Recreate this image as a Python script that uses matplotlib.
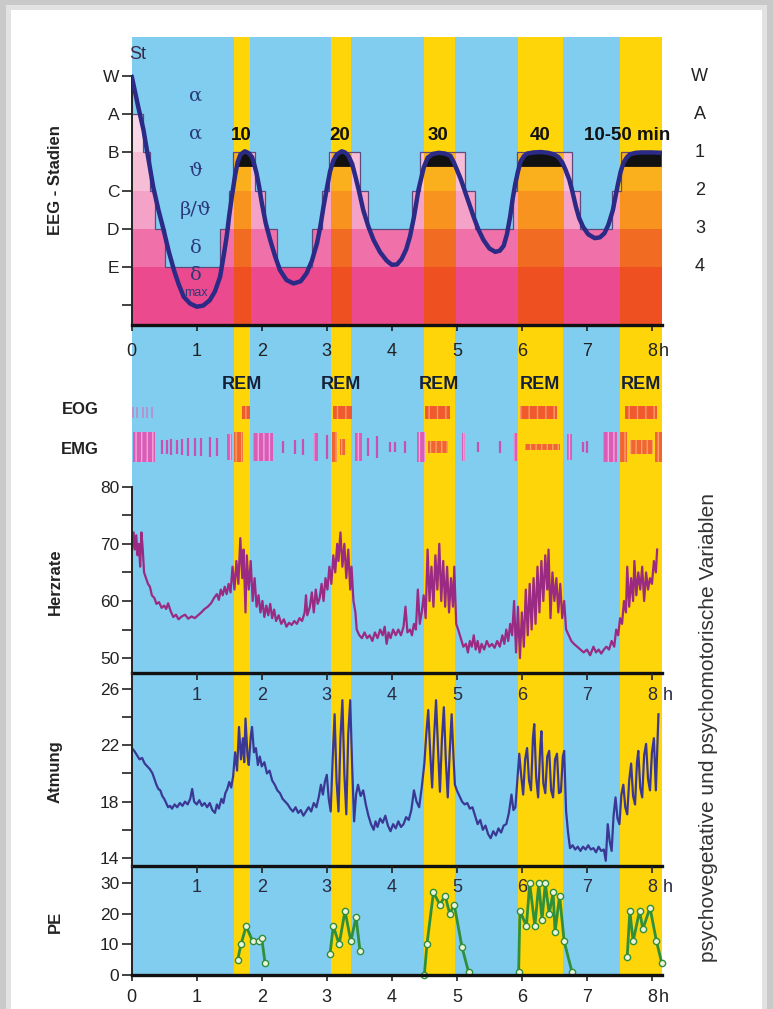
import numpy as np
import matplotlib.pyplot as plt
from matplotlib.patches import Rectangle

plt.rcParams['font.family'] = ['Liberation Sans', 'DejaVu Sans']

# ---------------------------------------------------------------- data
# REM periods in hours after sleep onset
rem_start = [1.575, 3.065, 4.49, 5.935, 7.51]
rem_end = [1.82, 3.37, 4.97, 6.625, 8.15]
rem_minutes = ['10', '20', '30', '40', '10-50 min']
rem_minute_t = [1.69, 3.2, 4.71, 6.28, 7.62]

# hypnogram steps, stage code: W=6, A=5, B=4, C=3, D=2, E=1
hyp_edges = [0, 0.18, 0.28, 0.36, 0.51, 1.36, 1.49, 1.56, 1.9, 2.05, 2.23,
             2.77, 2.92, 3.03, 3.51, 3.64, 4.31, 4.44, 5.13, 5.28, 5.87,
             5.92, 6.77, 6.9, 7.39, 7.52, 8.15]
hyp_levels = [5, 4, 3, 2, 1, 2, 3, 4, 3, 2, 1, 2, 3, 4, 3, 2, 3, 4, 3, 2, 3,
              4, 3, 2, 3, 4]

# smoothed sleep depth curve
depth_t = [0.0, 0.05, 0.1, 0.18, 0.26, 0.33, 0.41, 0.49, 0.57, 0.65, 0.72,
           0.8, 0.9, 1.0, 1.1, 1.2, 1.28, 1.36, 1.42, 1.46, 1.5, 1.54, 1.59,
           1.63, 1.67, 1.74, 1.8, 1.85, 1.89, 1.92, 1.96, 2.0, 2.06, 2.13,
           2.2, 2.28, 2.38, 2.49, 2.6, 2.69, 2.77, 2.85, 2.9, 2.95, 3.0,
           3.05, 3.1, 3.15, 3.23, 3.28, 3.33, 3.39, 3.44, 3.5, 3.56, 3.64,
           3.72, 3.82, 3.92, 4.0, 4.08, 4.15, 4.22, 4.28, 4.34, 4.41, 4.49,
           4.55, 4.63, 4.72, 4.82, 4.9, 4.95, 5.0, 5.06, 5.13, 5.2, 5.26,
           5.33, 5.41, 5.5, 5.59, 5.66, 5.72, 5.77, 5.82, 5.86, 5.9, 5.94,
           5.98, 6.03, 6.08, 6.18, 6.29, 6.4, 6.49, 6.56, 6.62, 6.67, 6.73,
           6.78, 6.83, 6.88, 6.94, 7.02, 7.12, 7.2, 7.27, 7.33, 7.4, 7.44,
           7.48, 7.52, 7.56, 7.61, 7.66, 7.75, 7.84, 8.0, 8.15]
depth_v = [6.0, 5.6, 5.2, 4.6, 3.8, 3.1, 2.5, 1.97, 1.4, 0.91, 0.55, 0.21,
           0.03, -0.05, -0.02, 0.12, 0.35, 0.74, 1.35, 1.79, 2.35, 2.84, 3.4,
           3.75, 3.94, 4.03, 3.98, 3.88, 3.65, 3.45, 3.1, 2.68, 2.15, 1.7,
           1.3, 0.91, 0.65, 0.56, 0.62, 0.83, 1.15, 1.62, 2.05, 2.58, 3.05,
           3.5, 3.78, 3.94, 4.03, 4.0, 3.92, 3.7, 3.37, 2.95, 2.49, 2.05,
           1.7, 1.38, 1.16, 1.05, 1.06, 1.2, 1.45, 1.8, 2.3, 3.02, 3.6, 3.86,
           3.96, 3.99, 3.97, 3.91, 3.75, 3.55, 3.3, 2.95, 2.6, 2.3, 1.98, 1.7,
           1.48, 1.39, 1.42, 1.55, 1.85, 2.32, 2.8, 3.19, 3.5, 3.76, 3.9,
           3.97, 4.0, 4.01, 3.99, 3.95, 3.88, 3.74, 3.55, 3.28, 2.95, 2.58,
           2.28, 2.05, 1.85, 1.75, 1.77, 1.88, 2.1, 2.49, 2.85, 3.19, 3.5,
           3.72, 3.86, 3.95, 3.99, 4.0, 4.0, 3.99]

# EOG bursts and isolated eye movements
eog_start = [1.69, 3.1, 4.51, 5.97, 7.59]
eog_end = [1.82, 3.38, 4.9, 6.54, 8.08]
eog_single_t = [0.02, 0.08, 0.18, 0.24, 0.31]

# EMG bursts (start, end, half height) and single twitches
emg_start = [0.02, 1.46, 1.575, 1.87, 2.79, 3.08, 3.2, 3.44, 4.38, 4.56,
             5.08, 5.87, 6.05, 6.69, 7.25, 7.51, 7.66, 8.05]
emg_end = [0.36, 1.54, 1.71, 2.17, 2.87, 3.15, 3.28, 3.54, 4.51, 4.87,
           5.13, 5.92, 6.59, 6.77, 7.46, 7.62, 8.02, 8.15]
emg_size = [15, 13, 15, 14, 14, 15, 8, 14, 15, 6, 14, 14, 3, 13, 15, 15, 7, 15]
emg_single_t = [0.46, 0.54, 0.61, 0.69, 0.77, 0.87, 0.97, 1.07, 1.2, 1.31,
                2.33, 2.51, 2.64, 3.0, 3.64, 3.77, 3.97, 4.05, 4.2, 5.33,
                5.67, 6.94, 7.0]
emg_single_size = [7, 7, 8, 7, 8, 9, 9, 9, 10, 9, 6, 7, 8, 12, 9, 11, 5, 5,
                   6, 5, 6, 5, 6]

# heart rate (1/min)
hr_samples = [
    (0.00, 68), (0.03, 72), (0.05, 69), (0.07, 71.5), (0.09, 68), (0.11, 70),
    (0.13, 66), (0.15, 72), (0.17, 69), (0.19, 65), (0.22, 64), (0.25, 63),
    (0.28, 62.5), (0.31, 61), (0.35, 60.5), (0.38, 59.5), (0.42, 59.8),
    (0.46, 58.8), (0.50, 59.2), (0.53, 58.6), (0.56, 59.6), (0.60, 58.2),
    (0.64, 57.2), (0.68, 57.6), (0.72, 56.8), (0.77, 57.3), (0.82, 57.6),
    (0.87, 56.9), (0.92, 57.3), (0.97, 57.0), (1.02, 57.5), (1.07, 58.0),
    (1.12, 58.6), (1.17, 59.0), (1.22, 59.6), (1.27, 60.6), (1.31, 61.2),
    (1.34, 60.2), (1.37, 62.0), (1.40, 61.0), (1.43, 62.5), (1.46, 61.2),
    (1.49, 63.0), (1.52, 61.5), (1.55, 66.0), (1.58, 62.0), (1.61, 67.0),
    (1.64, 63.0), (1.67, 71.0), (1.70, 64.0), (1.72, 69.0), (1.75, 58.0),
    (1.77, 68.0), (1.80, 62.0), (1.83, 67.0), (1.86, 60.0), (1.89, 64.0),
    (1.92, 59.0), (1.95, 61.0), (1.98, 58.0), (2.01, 60.0), (2.04, 57.2),
    (2.07, 59.2), (2.10, 57.5), (2.13, 59.5), (2.16, 57.0), (2.19, 58.5),
    (2.22, 56.5), (2.26, 57.5), (2.30, 56.0), (2.34, 56.8), (2.38, 55.5),
    (2.42, 56.2), (2.46, 55.8), (2.50, 56.5), (2.54, 56.0), (2.58, 57.0),
    (2.62, 56.5), (2.66, 58.0), (2.68, 61.0), (2.70, 57.5), (2.74, 59.0),
    (2.77, 61.5), (2.80, 58.0), (2.83, 62.0), (2.86, 59.5), (2.89, 60.5),
    (2.92, 63.0), (2.95, 60.0), (2.98, 64.0), (3.01, 62.0), (3.04, 66.0),
    (3.07, 63.0), (3.10, 68.0), (3.13, 65.0), (3.16, 70.0), (3.18, 67.0),
    (3.21, 72.0), (3.24, 66.0), (3.27, 70.0), (3.30, 64.0), (3.33, 69.0),
    (3.36, 62.0), (3.38, 66.0), (3.41, 60.0), (3.44, 58.0), (3.46, 55.0),
    (3.50, 54.0), (3.54, 53.5), (3.58, 54.5), (3.62, 53.5), (3.66, 54.0),
    (3.70, 53.0), (3.74, 54.5), (3.78, 53.5), (3.82, 55.0), (3.86, 54.0),
    (3.89, 55.5), (3.92, 52.5), (3.95, 54.5), (3.98, 53.5), (4.02, 55.0),
    (4.06, 54.0), (4.10, 55.0), (4.14, 54.0), (4.18, 55.5), (4.21, 59.0),
    (4.24, 54.5), (4.28, 55.0), (4.31, 54.0), (4.34, 56.0), (4.37, 55.0),
    (4.40, 62.0), (4.43, 56.0), (4.46, 58.0), (4.49, 61.0), (4.52, 57.0),
    (4.55, 69.0), (4.58, 60.0), (4.61, 66.0), (4.64, 59.0), (4.67, 68.0),
    (4.70, 62.0), (4.73, 70.0), (4.76, 60.0), (4.79, 67.0), (4.82, 59.0),
    (4.85, 66.0), (4.88, 58.0), (4.91, 64.0), (4.94, 59.0), (4.96, 66.0),
    (4.99, 56.0), (5.02, 55.0), (5.06, 53.5), (5.10, 52.0), (5.14, 52.5),
    (5.17, 51.0), (5.20, 53.0), (5.23, 52.0), (5.26, 54.0), (5.29, 51.5),
    (5.32, 53.0), (5.35, 51.0), (5.38, 52.5), (5.42, 51.5), (5.46, 53.0),
    (5.50, 52.0), (5.54, 52.5), (5.58, 51.8), (5.62, 53.0), (5.66, 52.0),
    (5.70, 54.0), (5.73, 52.5), (5.76, 55.0), (5.79, 53.0), (5.82, 56.0),
    (5.85, 54.0), (5.88, 60.0), (5.91, 51.0), (5.94, 59.0), (5.97, 50.0),
    (6.00, 58.0), (6.03, 52.0), (6.06, 62.0), (6.09, 54.0), (6.12, 63.0),
    (6.15, 55.0), (6.18, 64.0), (6.21, 56.0), (6.24, 66.0), (6.27, 58.0),
    (6.30, 67.0), (6.33, 60.0), (6.36, 68.0), (6.39, 62.0), (6.41, 69.0),
    (6.44, 57.0), (6.47, 65.0), (6.50, 60.0), (6.53, 64.0), (6.56, 58.0),
    (6.59, 63.0), (6.62, 57.0), (6.65, 60.0), (6.68, 55.0), (6.72, 54.0),
    (6.76, 53.0), (6.80, 52.5), (6.85, 52.0), (6.90, 51.5), (6.95, 51.0),
    (7.00, 51.5), (7.05, 50.5), (7.10, 52.0), (7.14, 51.0), (7.18, 51.5),
    (7.22, 50.8), (7.26, 51.5), (7.30, 52.0), (7.34, 51.5), (7.38, 53.0),
    (7.42, 52.0), (7.45, 55.0), (7.48, 54.0), (7.51, 57.0), (7.54, 56.0),
    (7.57, 60.0), (7.60, 58.0), (7.62, 66.0), (7.65, 59.0), (7.68, 64.0),
    (7.71, 60.0), (7.73, 67.0), (7.76, 61.0), (7.79, 65.0), (7.82, 62.0),
    (7.85, 66.0), (7.88, 60.0), (7.91, 65.0), (7.94, 62.0), (7.97, 64.0),
    (8.00, 63.0), (8.03, 67.0), (8.06, 65.0), (8.08, 69.0)]

# respiration rate (1/min)
resp_samples = [
    (0.00, 21.8), (0.04, 21.6), (0.08, 21.3), (0.12, 21.0), (0.16, 21.1),
    (0.20, 20.7), (0.24, 20.5), (0.28, 20.3), (0.32, 20.0), (0.35, 19.6),
    (0.38, 19.2), (0.41, 18.9), (0.44, 18.8), (0.47, 18.4), (0.50, 18.2),
    (0.53, 17.9), (0.56, 17.6), (0.59, 17.7), (0.62, 17.5), (0.66, 17.8),
    (0.70, 17.6), (0.74, 17.9), (0.78, 17.7), (0.82, 18.0), (0.86, 17.8),
    (0.90, 18.2), (0.93, 18.9), (0.96, 18.0), (1.00, 17.8), (1.04, 18.1),
    (1.08, 17.7), (1.12, 17.9), (1.16, 17.6), (1.20, 17.9), (1.24, 17.4),
    (1.28, 17.2), (1.31, 17.8), (1.34, 17.5), (1.38, 18.2), (1.41, 17.9),
    (1.44, 18.6), (1.47, 18.9), (1.50, 19.4), (1.53, 19.0), (1.56, 19.8),
    (1.59, 21.5), (1.62, 20.2), (1.65, 23.3), (1.68, 21.0), (1.71, 22.5),
    (1.73, 20.8), (1.75, 23.9), (1.78, 21.3), (1.80, 20.6), (1.83, 22.6),
    (1.85, 23.3), (1.88, 21.5), (1.91, 21.8), (1.94, 20.6), (1.97, 21.2),
    (2.00, 20.5), (2.04, 20.8), (2.08, 20.0), (2.12, 20.2), (2.16, 19.5),
    (2.20, 19.2), (2.24, 18.8), (2.28, 18.6), (2.32, 18.2), (2.36, 18.0),
    (2.40, 17.8), (2.44, 17.5), (2.48, 17.3), (2.52, 17.6), (2.56, 17.2),
    (2.60, 17.4), (2.64, 17.0), (2.68, 17.3), (2.72, 17.6), (2.76, 17.3),
    (2.80, 17.9), (2.84, 17.6), (2.88, 18.4), (2.91, 19.2), (2.94, 18.5),
    (2.97, 19.4), (3.00, 19.9), (3.03, 18.2), (3.06, 17.3), (3.09, 21.0),
    (3.12, 24.2), (3.15, 19.5), (3.18, 17.3), (3.21, 22.5), (3.24, 25.2),
    (3.27, 20.0), (3.30, 17.1), (3.33, 22.8), (3.36, 25.2), (3.39, 20.5),
    (3.42, 16.6), (3.45, 18.5), (3.48, 19.2), (3.52, 18.4), (3.56, 18.8),
    (3.60, 17.8), (3.64, 17.0), (3.68, 16.4), (3.72, 16.0), (3.75, 16.6),
    (3.78, 16.2), (3.82, 16.8), (3.86, 16.5), (3.90, 17.0), (3.94, 16.3),
    (3.98, 15.9), (4.02, 16.4), (4.06, 16.1), (4.10, 16.6), (4.14, 16.2),
    (4.18, 16.4), (4.22, 16.9), (4.26, 16.7), (4.30, 17.4), (4.34, 18.8),
    (4.38, 18.0), (4.42, 17.6), (4.46, 19.0), (4.50, 20.7), (4.53, 22.8),
    (4.56, 24.5), (4.59, 21.5), (4.62, 19.0), (4.65, 22.6), (4.68, 25.2),
    (4.71, 21.8), (4.74, 18.7), (4.77, 22.4), (4.80, 24.7), (4.83, 21.0),
    (4.86, 18.3), (4.89, 21.5), (4.92, 24.2), (4.95, 21.0), (4.97, 19.2),
    (5.00, 18.8), (5.04, 18.4), (5.08, 18.0), (5.12, 17.8), (5.16, 17.9),
    (5.20, 17.5), (5.24, 17.6), (5.28, 17.0), (5.32, 16.4), (5.36, 16.7),
    (5.40, 16.0), (5.44, 16.3), (5.48, 15.7), (5.52, 15.4), (5.56, 15.9),
    (5.60, 15.6), (5.64, 16.1), (5.68, 15.8), (5.72, 16.3), (5.76, 16.4),
    (5.80, 17.2), (5.84, 18.5), (5.87, 17.4), (5.90, 17.6), (5.93, 19.5),
    (5.96, 21.4), (5.99, 19.8), (6.02, 18.5), (6.05, 21.0), (6.08, 21.8),
    (6.11, 19.5), (6.14, 18.8), (6.17, 22.5), (6.19, 23.5), (6.22, 19.7),
    (6.25, 18.3), (6.28, 21.6), (6.30, 23.0), (6.33, 19.3), (6.36, 18.6),
    (6.39, 21.2), (6.42, 21.6), (6.45, 18.8), (6.48, 18.3), (6.51, 21.0),
    (6.54, 21.4), (6.57, 18.6), (6.60, 18.7), (6.63, 21.2), (6.65, 21.6),
    (6.68, 17.3), (6.71, 15.8), (6.74, 14.7), (6.78, 14.9), (6.82, 14.6),
    (6.86, 14.8), (6.90, 14.5), (6.94, 14.8), (6.98, 14.6), (7.02, 14.9),
    (7.06, 14.6), (7.10, 14.7), (7.14, 14.4), (7.18, 14.8), (7.22, 14.5),
    (7.26, 14.6), (7.29, 13.8), (7.32, 16.4), (7.35, 15.2), (7.38, 14.5),
    (7.41, 17.0), (7.44, 18.3), (7.47, 16.8), (7.50, 16.4), (7.53, 18.5),
    (7.56, 19.2), (7.59, 17.6), (7.62, 17.1), (7.65, 19.5), (7.68, 20.7),
    (7.71, 18.4), (7.74, 17.8), (7.77, 20.8), (7.79, 21.6), (7.82, 19.0),
    (7.85, 18.3), (7.88, 21.3), (7.91, 22.1), (7.94, 19.6), (7.97, 18.8),
    (8.00, 21.5), (8.03, 22.5), (8.06, 18.8), (8.10, 24.2)]

# psycho-electric activity, one run per REM period
pe_t = [[1.63, 1.68, 1.76, 1.86, 1.95, 2.00, 2.05],
        [3.05, 3.10, 3.19, 3.28, 3.37, 3.45, 3.51],
        [4.50, 4.54, 4.64, 4.74, 4.82, 4.89, 4.96, 5.08, 5.18],
        [5.95, 5.97, 6.07, 6.12, 6.20, 6.26, 6.31, 6.36, 6.42, 6.48, 6.51,
         6.58, 6.65, 6.77],
        [7.62, 7.66, 7.71, 7.81, 7.86, 7.97, 8.07, 8.15]]
pe_v = [[5, 10, 16, 11, 11, 12, 4],
        [7, 16, 10, 21, 11, 19, 8],
        [0, 10, 27, 23, 26, 20, 23, 9, 1],
        [1, 21, 16, 30, 16, 30, 18, 30, 20, 27, 14, 26, 11, 1],
        [6, 21, 11, 21, 15, 22, 11, 4]]

stage_left = ['W', 'A', 'B', 'C', 'D', 'E', '']
stage_right = ['W', 'A', '1', '2', '3', '4']
eeg_waves = ['α', 'α', 'ϑ', 'β/ϑ', 'δ', 'δ']

# ---------------------------------------------------------------- style
BLUE = '#80cdef'
YELLOW = '#fed508'
PINKS = ['#ec4a8e', '#f070aa', '#f4a2c7', '#f6bdd7', '#f8d6e5']
ORANGES = ['#ef5022', '#f26b22', '#f7931e', '#fab01c']
BAND_LO = [-0.53, 1, 2, 3, 4]
BAND_HI = [1, 2, 3, 4, 5]
INK = '#222222'
T_MAX = 8.15

W_PX, H_PX = 773, 1009
X0_PX, X1_PX = 131.7, 661.7


def box(top, bottom):
    return [X0_PX / W_PX, 1 - bottom / H_PX,
            (X1_PX - X0_PX) / W_PX, (bottom - top) / H_PX]


def fxy(x, y):
    return x / W_PX, 1 - y / H_PX


def in_rem(t):
    return any(s <= t <= e for s, e in zip(rem_start, rem_end))


fig = plt.figure(figsize=(W_PX / 100, H_PX / 100), dpi=100)
fig.patch.set_facecolor('#c9c9c9')
fig.add_artist(Rectangle((6 / W_PX, 0), 761 / W_PX, 1 - 5 / H_PX,
                         transform=fig.transFigure, facecolor='#e2e2e2',
                         edgecolor='none', zorder=-2))
fig.add_artist(Rectangle((11 / W_PX, 0), 751 / W_PX, 1 - 10 / H_PX,
                         transform=fig.transFigure, facecolor='white',
                         edgecolor='none', zorder=-1))

# shared background with REM columns
ax_bg = fig.add_axes(box(37, 975))
ax_bg.set_xlim(0, T_MAX)
ax_bg.set_ylim(0, 1)
ax_bg.axis('off')
ax_bg.axvspan(0, T_MAX, color=BLUE, lw=0)
for s, e in zip(rem_start, rem_end):
    ax_bg.axvspan(s, e, color=YELLOW, lw=0)


def clear_axes(ax):
    ax.set_facecolor('none')
    ax.set_xlim(0, T_MAX)
    for side in ('top', 'right'):
        ax.spines[side].set_visible(False)
    ax.spines['left'].set_linewidth(1.4)
    ax.spines['left'].set_color(INK)
    ax.spines['bottom'].set_linewidth(2.4)
    ax.spines['bottom'].set_color('#111111')
    ax.tick_params(axis='y', direction='out', length=7, width=1.2,
                   labelsize=12.5, pad=2, colors=INK)


def hour_labels_inside(ax, y_frac):
    sec = ax.secondary_xaxis('top')
    sec.set_xticks(range(1, 9))
    sec.tick_params(direction='in', length=5, width=1.2, labeltop=False,
                    colors=INK)
    sec.spines['top'].set_visible(False)
    for h in range(1, 9):
        ax.text(h, y_frac, str(h), transform=ax.get_xaxis_transform(),
                ha='center', va='center', fontsize=13, color='#2a2a40')
    ax.text(8.17, y_frac, 'h', transform=ax.get_xaxis_transform(),
            ha='left', va='center', fontsize=13, color='#2a2a40')


def hour_labels_below(ax, pad):
    ax.set_xticks(range(9))
    ax.set_xticklabels([str(h) for h in range(9)])
    ax.tick_params(axis='x', direction='out', length=4, width=1.2, pad=pad,
                   labelsize=13, colors=INK)
    ax.annotate('h', xy=(8, 0), xycoords=('data', 'axes fraction'),
                xytext=(5, -4 - pad), textcoords='offset points',
                ha='left', va='top', fontsize=13, color=INK)


# ---------------------------------------------------------------- EEG stages
ax = fig.add_axes(box(37, 325))
clear_axes(ax)
ax.set_ylim(-0.53, 7.03)
ax.spines['left'].set_bounds(-0.53, 6)

x_step = np.array(hyp_edges)
y_step = np.append(hyp_levels, hyp_levels[-1]).astype(float)
for lo, hi, c in zip(BAND_LO, BAND_HI, PINKS):
    ax.fill_between(x_step, lo, np.clip(y_step, lo, hi), step='post',
                    color=c, lw=0)
for s, e in zip(rem_start, rem_end):
    clip = Rectangle((s, -1), e - s, 10, transform=ax.transData)
    for lo, hi, c in zip(BAND_LO, BAND_HI, ORANGES):
        poly = ax.fill_between(x_step, lo, np.clip(y_step, lo, hi),
                               step='post', color=c, lw=0)
        poly.set_clip_path(clip)
ax.stairs(hyp_levels, hyp_edges, baseline=None, color='#5e4a7e', lw=0.9)

dt = np.array(depth_t)
dv = np.array(depth_v)
ax.fill_between(dt, 3.62, dv, where=(dv > 3.62) & (dt > 1), interpolate=True,
                color='#111111', lw=0, zorder=3)
ax.plot(dt, dv, color='#2b2a86', lw=3.2, solid_capstyle='round', zorder=4)

ax.set_yticks([6, 5, 4, 3, 2, 1, 0])
ax.set_yticklabels(stage_left)
hour_labels_below(ax, pad=9)

for lab, lvl in zip(eeg_waves, [5.5, 4.5, 3.5, 2.5, 1.5, 0.78]):
    ax.text(0.98, lvl, lab, ha='center', va='center', fontsize=14,
            family='DejaVu Serif', color='#2c3a7c')
ax.text(0.98, 0.3, 'max', ha='center', va='center', fontsize=9,
        color='#2c3a7c')
for lab, lvl in zip(stage_right, [6, 5, 4, 3, 2, 1]):
    ax.text(1.072, lvl, lab, transform=ax.get_yaxis_transform(),
            ha='center', va='center', fontsize=13, color=INK)
for lab, t in zip(rem_minutes, rem_minute_t):
    ax.text(t, 4.44, lab, ha='center', va='center', fontsize=13.5,
            fontweight='bold', color='#111111', zorder=5)
ax.text(0.012, 6.57, 'St', transform=ax.get_yaxis_transform(), ha='center',
        va='center', fontsize=13, color='#3a2a4a')

# ---------------------------------------------------------------- REM / EOG / EMG
ax_ev = fig.add_axes(box(370, 466))
ax_ev.set_xlim(0, T_MAX)
ax_ev.set_ylim(0, 96)
ax_ev.axis('off')
EMG_MID = 19
for s, e in zip(rem_start, rem_end):
    ax_ev.text((s + e) / 2, 81, 'REM', ha='center', va='center',
               fontsize=13, fontweight='bold', color='#15203a')
for s, e in zip(eog_start, eog_end):
    ax_ev.bar((s + e) / 2, 13, width=e - s, bottom=47, color='#f05a2c',
              edgecolor='#f79a6a', hatch='||', lw=0)
ax_ev.vlines(eog_single_t, 48, 59, colors='#c77fc4', lw=1.3, alpha=0.8)
for s, e, h in zip(emg_start, emg_end, emg_size):
    rem = in_rem((s + e) / 2)
    ax_ev.bar((s + e) / 2, 2 * h, width=e - s, bottom=EMG_MID - h,
              color='#f26430' if rem else '#d95cb6',
              edgecolor='#f8a266' if rem else '#f3a5dc', hatch='|||', lw=0)
emg_single_c = ['#f26430' if in_rem(t) else '#c850b0' for t in emg_single_t]
ax_ev.vlines(emg_single_t, EMG_MID - np.array(emg_single_size),
             EMG_MID + np.array(emg_single_size), colors=emg_single_c, lw=1.6)

# ---------------------------------------------------------------- heart rate
ax_hr = fig.add_axes(box(486.7, 673))
clear_axes(ax_hr)
ax_hr.set_ylim(47.4, 80)
ax_hr.spines['left'].set_bounds(47.4, 80)
ax_hr.set_yticks([50, 55, 60, 65, 70, 75, 80])
ax_hr.set_yticklabels(['50', '', '60', '', '70', '', '80'])
ax_hr.set_xticks([])
hr_t, hr_v = np.array(hr_samples).T
ax_hr.plot(hr_t, hr_v, color='#9b2a82', lw=1.6)

# ---------------------------------------------------------------- respiration
ax_rs = fig.add_axes(box(673, 866))
clear_axes(ax_rs)
ax_rs.set_ylim(13.43, 27.13)
ax_rs.set_yticks([14, 16, 18, 20, 22, 24, 26])
ax_rs.set_yticklabels(['14', '', '18', '', '22', '', '26'])
ax_rs.set_xticks([])
hour_labels_inside(ax_rs, 0.885)
rs_t, rs_v = np.array(resp_samples).T
ax_rs.plot(rs_t, rs_v, color='#3a3894', lw=1.6)

# ---------------------------------------------------------------- PE
ax_pe = fig.add_axes(box(866, 975))
clear_axes(ax_pe)
ax_pe.set_ylim(0, 35.65)
ax_pe.set_yticks([0, 10, 20, 30])
hour_labels_inside(ax_pe, 0.8)
hour_labels_below(ax_pe, pad=6)
for t, v in zip(pe_t, pe_v):
    ax_pe.plot(t, v, color='#2f8f3a', lw=2, marker='o', ms=4.5,
               mfc='#eef3dc', mec='#2f8f3a', mew=1, clip_on=False)

# ---------------------------------------------------------------- labels
for text, y in [('EEG - Stadien', 180), ('Herzrate', 582),
                ('Atmung', 772), ('PE', 922)]:
    fig.text(*fxy(55, y), text, rotation=90, ha='center', va='center',
             fontsize=12, fontweight='bold', color=INK)
fig.text(*fxy(80, 410), 'EOG', ha='center', va='center', fontsize=12,
         fontweight='bold', color=INK)
fig.text(*fxy(80, 449), 'EMG', ha='center', va='center', fontsize=12,
         fontweight='bold', color=INK)
fig.text(*fxy(708, 728), 'psychovegetative und psychomotorische Variablen',
         rotation=90, ha='center', va='center', fontsize=15, color='#333333')

fig.savefig('out.png', dpi=100)
